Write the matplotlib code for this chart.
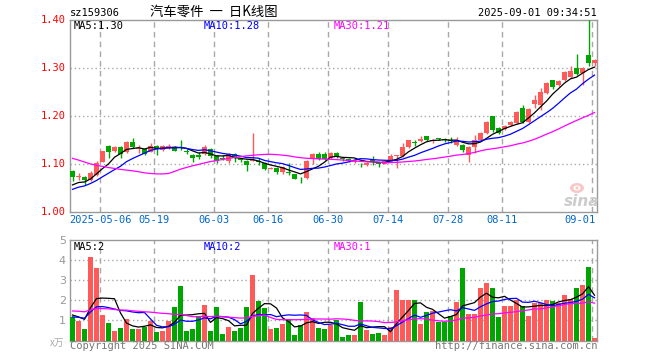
import numpy as np
import pandas as pd
import matplotlib
matplotlib.use("Agg")
import matplotlib.pyplot as plt
from matplotlib.patches import Ellipse

# daily bars, index 0 .. 87 (2025-04-24 .. 2025-09-01)
opens = [1.085, 1.073, 1.072, 1.067, 1.078, 1.105, 1.138, 1.128, 1.135, 1.124,
         1.146, 1.131, 1.131, 1.126, 1.138, 1.130, 1.134, 1.133, 1.134, 1.127,
         1.119, 1.118, 1.120, 1.131, 1.117, 1.112, 1.106, 1.120, 1.110, 1.107,
         1.107, 1.106, 1.103, 1.090, 1.091, 1.084, 1.084, 1.079, 1.071, 1.070,
         1.110, 1.121, 1.121, 1.112, 1.122, 1.113, 1.109, 1.104, 1.100, 1.098,
         1.107, 1.103, 1.101, 1.105, 1.116, 1.117, 1.136, 1.145, 1.147, 1.158,
         1.147, 1.153, 1.153, 1.150, 1.140, 1.140, 1.119, 1.135, 1.150, 1.165,
         1.199, 1.176, 1.172, 1.181, 1.185, 1.216, 1.188, 1.225, 1.222, 1.247,
         1.274, 1.265, 1.275, 1.281, 1.301, 1.289, 1.327, 1.310]
highs = [1.088, 1.081, 1.074, 1.085, 1.107, 1.128, 1.140, 1.137, 1.137, 1.147,
         1.155, 1.139, 1.133, 1.144, 1.139, 1.140, 1.142, 1.137, 1.150, 1.132,
         1.120, 1.124, 1.139, 1.133, 1.119, 1.119, 1.123, 1.122, 1.113, 1.108,
         1.164, 1.112, 1.104, 1.093, 1.093, 1.095, 1.103, 1.080, 1.073, 1.108,
         1.122, 1.125, 1.125, 1.124, 1.124, 1.115, 1.112, 1.109, 1.103, 1.104,
         1.117, 1.104, 1.108, 1.120, 1.119, 1.143, 1.151, 1.150, 1.158, 1.159,
         1.153, 1.155, 1.154, 1.156, 1.156, 1.141, 1.137, 1.160, 1.167, 1.190,
         1.200, 1.178, 1.182, 1.190, 1.211, 1.222, 1.216, 1.244, 1.258, 1.270,
         1.276, 1.274, 1.294, 1.305, 1.329, 1.303, 1.400, 1.318]
lows = [1.065, 1.066, 1.056, 1.064, 1.076, 1.104, 1.112, 1.126, 1.112, 1.123,
        1.134, 1.122, 1.119, 1.124, 1.119, 1.128, 1.131, 1.127, 1.130, 1.120,
        1.105, 1.111, 1.118, 1.112, 1.103, 1.108, 1.103, 1.105, 1.105, 1.086,
        1.106, 1.098, 1.087, 1.089, 1.079, 1.080, 1.078, 1.068, 1.061, 1.069,
        1.101, 1.108, 1.109, 1.110, 1.112, 1.107, 1.104, 1.103, 1.094, 1.095,
        1.098, 1.094, 1.100, 1.104, 1.091, 1.115, 1.133, 1.137, 1.145, 1.147,
        1.144, 1.149, 1.146, 1.144, 1.138, 1.124, 1.105, 1.122, 1.148, 1.163,
        1.167, 1.163, 1.170, 1.179, 1.183, 1.185, 1.186, 1.216, 1.213, 1.245,
        1.257, 1.262, 1.273, 1.279, 1.286, 1.265, 1.305, 1.305]
closes = [1.072, 1.075, 1.066, 1.081, 1.103, 1.127, 1.124, 1.135, 1.120, 1.146,
          1.136, 1.133, 1.121, 1.138, 1.134, 1.138, 1.138, 1.128, 1.133, 1.126,
          1.112, 1.115, 1.135, 1.117, 1.106, 1.111, 1.121, 1.112, 1.109, 1.097,
          1.108, 1.105, 1.089, 1.091, 1.083, 1.093, 1.082, 1.069, 1.070, 1.107,
          1.121, 1.110, 1.111, 1.122, 1.116, 1.110, 1.108, 1.107, 1.099, 1.103,
          1.106, 1.101, 1.106, 1.117, 1.118, 1.136, 1.150, 1.144, 1.152, 1.149,
          1.151, 1.152, 1.149, 1.147, 1.150, 1.129, 1.135, 1.150, 1.165, 1.188,
          1.171, 1.165, 1.180, 1.188, 1.209, 1.188, 1.215, 1.233, 1.250, 1.269,
          1.260, 1.272, 1.292, 1.294, 1.287, 1.301, 1.310, 1.317]
# volume in 万
volumes = [1.15, 0.95, 0.58, 4.18, 3.60, 1.28, 0.88, 0.48, 0.63, 1.08,
           0.58, 0.58, 0.68, 0.98, 0.43, 0.48, 0.98, 1.68, 2.73, 0.48,
           0.58, 1.20, 1.78, 0.48, 1.68, 0.33, 0.68, 0.48, 0.63, 1.68,
           3.28, 1.98, 1.63, 0.58, 0.63, 0.83, 1.08, 0.28, 0.78, 1.43,
           1.13, 0.63, 0.58, 0.78, 1.03, 0.18, 0.28, 0.28, 1.93, 0.53,
           0.33, 0.38, 0.28, 0.68, 2.53, 2.00, 2.00, 2.03, 0.83, 1.43,
           1.48, 0.92, 0.92, 1.23, 1.93, 3.63, 1.33, 1.33, 2.63, 2.88,
           2.63, 1.18, 1.70, 1.70, 2.03, 1.73, 1.23, 1.88, 1.88, 2.00,
           1.98, 1.88, 2.25, 2.08, 2.63, 2.78, 3.68, 0.13]

# days before the window, only needed to start the moving averages
pre_close = [1.18, 1.19, 1.20, 1.19, 1.19, 1.20, 1.19, 1.18, 1.19, 1.18,
             1.19, 1.19, 1.18, 1.16, 1.14, 1.11, 1.00, 0.99, 1.02, 1.01,
             1.03, 1.04, 1.03, 1.04, 1.05, 1.05, 1.06, 1.05, 1.05]
pre_volume = [1.3, 1.5, 1.2, 1.6, 1.4, 1.3, 1.5, 1.4, 1.2, 1.6,
              1.3, 1.4, 1.5, 1.4, 1.3, 1.5, 2.8, 2.6, 2.3, 2.3,
              1.2, 1.0, 1.1, 1.0, 1.15, 1.4, 1.2, 1.3, 1.3]

tick_pos = [5, 14, 24, 33, 43, 53, 63, 72, 87]
tick_labels = ["2025-05-06", "05-19", "06-03", "06-16", "06-30",
               "07-14", "07-28", "08-11", "09-01"]
price_ticks = [1.4, 1.3, 1.2, 1.1, 1.0]
vol_ticks = [1, 2, 3, 4, 5]

RED = "#ff5a5a"
GREEN = "#00a600"
GRID = "#a8a8a8"
FRAME = "#999999"
MONO = "DejaVu Sans Mono"
CJK = ["Noto Sans CJK SC", "DejaVu Sans"]

W, H = 660, 360
fig = plt.figure(figsize=(6.6, 3.6), dpi=100)
fig.patch.set_facecolor("white")


def box(x0, y0, x1, y1):
    return [x0 / W, 1 - y1 / H, (x1 - x0) / W, (y1 - y0) / H]


def ftext(x, y, s, **kw):
    fig.text(x / W, 1 - y / H, s, **kw)


ax = fig.add_axes(box(70, 20, 597, 212))
axv = fig.add_axes(box(70, 240.3, 597, 340.5))

n = len(closes)
x = np.arange(n)
bw = 5 / 6
xc = x + bw / 2
o = np.array(opens)
c = np.array(closes)
up = c >= o
col = np.where(up, RED, GREEN)

# candles
body_lo = np.minimum(o, c)
body_h = np.maximum(np.abs(c - o), 0.0018)
ax.vlines(xc, lows, highs, colors=col, lw=1, zorder=3)
ax.bar(x, body_h, bottom=body_lo, width=bw, align="edge", color=col,
       linewidth=0, zorder=4)

# moving averages
pc = pd.Series(pre_close + closes)
pv = pd.Series(pre_volume + volumes)
k = len(pre_close)
for win, clr in [(5, "black"), (10, "#0000ff"), (30, "#ff00ff")]:
    ax.plot(xc, pc.rolling(win).mean().values[k:], color=clr, lw=0.9, zorder=5)
    axv.plot(xc, pv.rolling(win).mean().values[k:], color=clr, lw=0.9, zorder=5)

axv.bar(x, volumes, width=bw, align="edge", color=col, linewidth=0, zorder=3)

for a, ylim, hl in [(ax, (1.0, 1.4), [1.1, 1.2, 1.3]), (axv, (0, 5), [1, 2, 3, 4])]:
    a.set_xlim(0, 527 / 6)
    a.set_ylim(*ylim)
    a.set_xticks([])
    a.set_yticks([])
    for s in a.spines.values():
        s.set_color(FRAME)
        s.set_linewidth(1)
    for t in tick_pos:
        a.axvline(t, color=GRID, lw=1, ls=(0, (4, 3)), zorder=1)
    for h in hl:
        a.axhline(h, color=GRID, lw=1, ls=(0, (1, 2)), zorder=1)

# price labels
for v in price_ticks:
    yy = 212 - (v - 1.0) * 480
    ftext(66, yy, f"{v:.2f}", color="red", family=MONO, fontsize=7.5,
          ha="right", va="center")
for v in vol_ticks:
    ftext(66, 340.5 - v * 20, str(v), color="#999999", fontsize=8,
          ha="right", va="center")
ftext(64, 343, "x万", color="#aaaaaa", fontsize=7, ha="right", va="center",
      family=CJK)

# date labels
for t, lab in zip(tick_pos, tick_labels):
    px = 70 + t * 6
    if lab == "09-01":
        ftext(596, 220, lab, color="#0066cc", family=MONO, fontsize=7.5,
              ha="right", va="center")
    else:
        ftext(px, 220, lab, color="#0066cc", family=MONO, fontsize=7.5,
              ha="center", va="center")

# header
ftext(70, 12.5, "sz159306", family=MONO, fontsize=7.5, va="center")
ftext(150, 11.5, "汽车零件  一  日K线图", family=CJK, fontsize=9.6, va="center")
ftext(597, 12.5, "2025-09-01 09:34:51", family=MONO, fontsize=7.5,
      ha="right", va="center")

# MA legends
ftext(74, 26, "MA5:1.30", family=MONO, fontsize=7.5, va="center", color="black")
ftext(204, 26, "MA10:1.28", family=MONO, fontsize=7.5, va="center", color="#0000ff")
ftext(334, 26, "MA30:1.21", family=MONO, fontsize=7.5, va="center", color="#ff00ff")
ftext(74, 247, "MA5:2", family=MONO, fontsize=7.5, va="center", color="black")
ftext(204, 247, "MA10:2", family=MONO, fontsize=7.5, va="center", color="#0000ff")
ftext(334, 247, "MA30:1", family=MONO, fontsize=7.5, va="center", color="#ff00ff")

# footer
ftext(70, 346, "Copyright 2025 SINA.COM", family=MONO, fontsize=7.5,
      color="#777777", va="center")
ftext(597, 346, "http://finance.sina.com.cn", family=MONO, fontsize=7.5,
      color="#777777", ha="right", va="center")

# watermark: small eye logo + "sina"
for wd, ht, fc in [(14, 10, "#f6c8c8"), (7, 5, "white"), (3, 3, "#f6c8c8")]:
    fig.patches.append(Ellipse((577 / W, 1 - 188 / H), wd / W, ht / H,
                               transform=fig.transFigure, facecolor=fc,
                               edgecolor="none", zorder=6))
ftext(582, 202, "sina", fontsize=11, color="#cccccc", fontweight="bold",
      style="italic", ha="center", va="center")

fig.savefig("out.png", dpi=100)
